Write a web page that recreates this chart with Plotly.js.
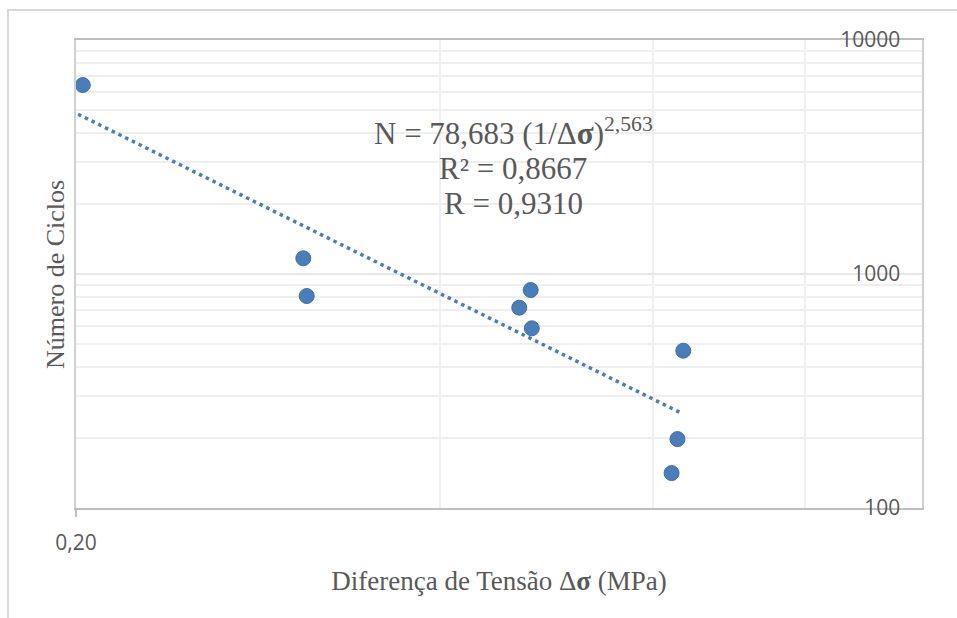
<!DOCTYPE html>
<html>
<head>
<meta charset="utf-8">
<script src="https://cdn.plot.ly/plotly-3.0.1.min.js"></script>
<style>
  html, body { margin: 0; padding: 0; background: #ffffff; overflow: hidden; }
  #chart { width: 957px; height: 618px; }
</style>
</head>
<body>
<div id="chart"></div>
<script>
// Stress difference (MPa) and cycles to failure for each specimen
const deltaSigma = [0.2026, 0.3082, 0.3102, 0.4750, 0.4648, 0.4760, 0.6350, 0.6280, 0.6210];
const cycles     = [6420, 1167, 805, 854, 718, 586, 470, 197, 141];

// Power-law fit N = A * (1/Δσ)^b, drawn over the span of the data
const fitA = 78.683;
const fitB = 2.563;
const fitR2 = '0,8667';
const fitR = '0,9310';
const fitSpan = [0.2008, 0.631];

// Axis ticks
const xTickVals = [0.2];
const xTickText = ['0,20'];
const xMinorVals = [0.4, 0.6, 0.8];
const yTickVals = [100, 1000, 10000];
const yTickText = ['100', '1000', '10000'];
const yMinorVals = [200, 300, 400, 500, 600, 700, 800, 900,
                    2000, 3000, 4000, 5000, 6000, 7000, 8000, 9000];

const fitN = fitSpan.map(s => fitA * Math.pow(1 / s, fitB));

const blue = '#4a7ebb';
const textGray = '#595959';
const serif = '"Liberation Serif", "Times New Roman", serif';
const sans = '"Open Sans", "Liberation Sans", sans-serif';

// pixel helpers for paper-referenced layout items
const L = 76, R = 922, T = 40, B = 508;
const px = x => (x - L) / (R - L);
const py = y => (B - y) / (B - T);

const traces = [
  {
    x: fitSpan, y: fitN, type: 'scatter', mode: 'lines',
    line: { color: blue, width: 3.5, dash: '3.5px,4px' },
    hoverinfo: 'skip', showlegend: false
  },
  {
    x: deltaSigma, y: cycles, type: 'scatter', mode: 'markers',
    marker: { color: blue, size: 15, line: { color: '#41719c', width: 1 } },
    showlegend: false, cliponaxis: false
  }
];

const layout = {
  width: 957, height: 618,
  margin: { l: L, r: 957 - R, t: T, b: 618 - B },
  paper_bgcolor: '#ffffff', plot_bgcolor: '#ffffff',
  showlegend: false,
  xaxis: {
    type: 'log', range: [Math.log10(0.2), Math.log10(1.0)],
    tickvals: xTickVals, ticktext: xTickText,
    ticks: 'outside', ticklen: 7, tickcolor: '#bfbfbf', tickwidth: 2,
    ticklabelstandoff: 8,
    tickfont: { family: sans, size: 21, color: textGray },
    showline: true, linecolor: '#bfbfbf', linewidth: 2, mirror: true,
    showgrid: false, zeroline: false,
    minor: { tickvals: xMinorVals, showgrid: true, gridcolor: '#f0f0f0', gridwidth: 2, ticks: '' },
    title: { text: 'Diferença de Tensão Δ<b>σ</b> (MPa)', font: { family: serif, size: 27, color: textGray }, standoff: 16 }
  },
  yaxis: {
    type: 'log', range: [2, 4], side: 'right',
    tickvals: yTickVals, ticktext: yTickText,
    ticklabelposition: 'inside', ticklabelstandoff: 23, ticklabeloverflow: 'allow',
    ticks: '',
    tickfont: { family: sans, size: 21, color: textGray },
    showline: true, linecolor: '#d0d0d0', linewidth: 2, mirror: true,
    showgrid: true, gridcolor: '#e6e6e6', gridwidth: 2, zeroline: false,
    minor: { tickvals: yMinorVals, showgrid: true, gridcolor: '#efefef', gridwidth: 2, ticks: '' }
  },
  annotations: [
    {
      xref: 'paper', yref: 'paper', x: px(55), y: py(275),
      text: 'Número de Ciclos', textangle: -90, showarrow: false,
      xanchor: 'center', yanchor: 'middle',
      font: { family: serif, size: 26, color: textGray }
    },
    {
      xref: 'paper', yref: 'paper', x: px(513), y: py(131),
      text: 'N = ' + String(fitA).replace('.', ',') + ' (1/Δ<b>σ</b>)<sup>' + String(fitB).replace('.', ',') + '</sup>',
      showarrow: false, xanchor: 'center', yanchor: 'middle',
      font: { family: serif, size: 31, color: textGray }
    },
    {
      xref: 'paper', yref: 'paper', x: px(513), y: py(168),
      text: 'R² = ' + fitR2, showarrow: false, xanchor: 'center', yanchor: 'middle',
      font: { family: serif, size: 31, color: textGray }
    },
    {
      xref: 'paper', yref: 'paper', x: px(513), y: py(203),
      text: 'R = ' + fitR, showarrow: false, xanchor: 'center', yanchor: 'middle',
      font: { family: serif, size: 31, color: textGray }
    }
  ],
  shapes: [
    {
      type: 'rect', xref: 'paper', yref: 'paper', layer: 'below',
      x0: px(8), x1: px(1000), y0: py(700), y1: py(10),
      line: { color: '#d9d9d9', width: 2 }, fillcolor: 'rgba(0,0,0,0)'
    }
  ]
};

Plotly.newPlot('chart', traces, layout, { displayModeBar: false, staticPlot: true });
</script>
</body>
</html>
